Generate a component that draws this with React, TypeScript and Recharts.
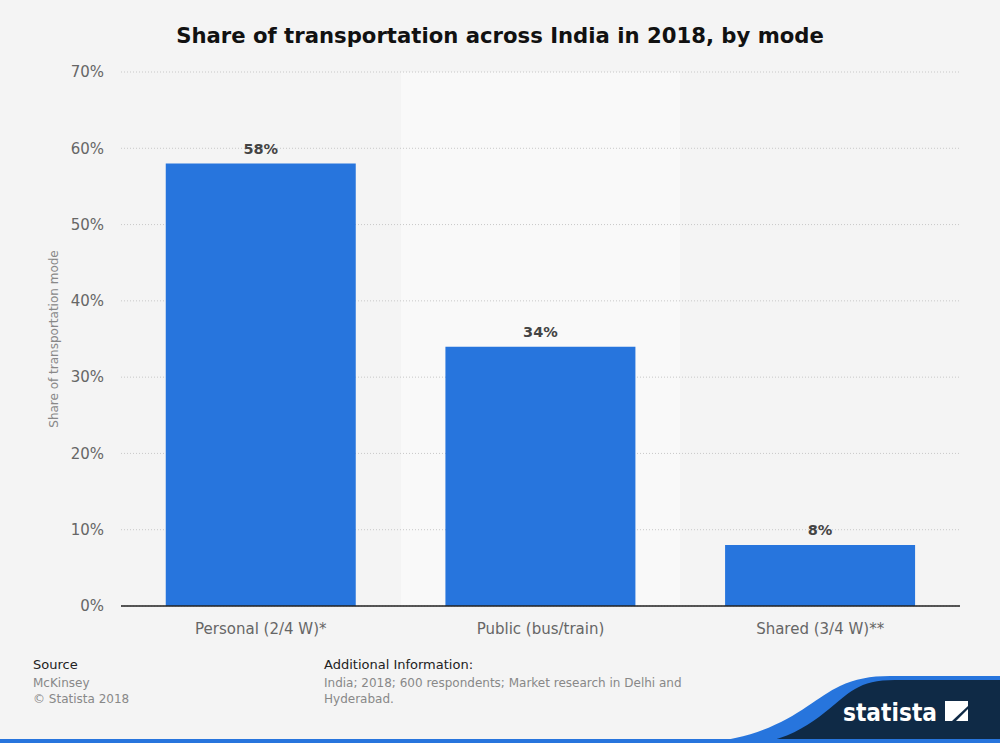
import React from 'react';
import { BarChart, Bar, XAxis, YAxis, CartesianGrid, LabelList, ReferenceLine, Label } from 'recharts';

const categories = ['Personal (2/4 W)*', 'Public (bus/train)', 'Shared (3/4 W)**'];
const shares = [58, 34, 8];
const yTicks = [0, 10, 20, 30, 40, 50, 60, 70];

const data = categories.map((c, i) => ({ name: c, value: shares[i] }));

const FONT = '"DejaVu Sans", Verdana, sans-serif';

const bandEdges = ({ offset }: any) => {
  const n = categories.length;
  return Array.from({ length: n + 1 }, (_, i) => offset.left + (offset.width * i) / n);
};

export default function App() {
  return (
    <div style={{ position: 'absolute', left: 0, top: 0, width: 1000, height: 743, background: '#f4f4f4', fontFamily: FONT, overflow: 'hidden' }}>
      <div style={{ position: 'absolute', left: 0, top: 23, width: 1000, textAlign: 'center', fontSize: 21.2, fontWeight: 'bold', color: '#111' }}>
        Share of transportation across India in 2018, by mode
      </div>
      <div style={{ position: 'absolute', left: 0, top: 0 }}>
        <BarChart width={1000} height={743} data={data} margin={{ top: 72, right: 40, bottom: 107, left: 0 }} barCategoryGap="16%">
          <CartesianGrid horizontal={false} vertical={true} stroke="none" verticalFill={['#f4f4f4', '#f9f9f9', '#f4f4f4']}
            verticalCoordinatesGenerator={bandEdges} />
          <CartesianGrid vertical={false} stroke="#c8c8c8" strokeDasharray="1 2" />
          <XAxis dataKey="name" axisLine={false} tickLine={false} tickMargin={11}
            tick={{ fill: '#666', fontSize: 15, fontFamily: FONT }} interval={0} />
          <YAxis width={121} domain={[0, 70]} ticks={yTicks} tickFormatter={(v: number) => `${v}%`} axisLine={false} tickLine={false}
            tickSize={0} tickMargin={17} tick={{ fill: '#666', fontSize: 15, fontFamily: FONT }}>
            <Label value="Share of transportation mode" angle={-90} position="insideLeft" offset={54}
              style={{ fill: '#888', fontSize: 12, fontFamily: FONT, textAnchor: 'middle' }} />
          </YAxis>
          <Bar dataKey="value" fill="#2775dd" isAnimationActive={false}>
            <LabelList dataKey="value" position="top" offset={10} formatter={(v: number) => `${v}%`}
              style={{ fill: '#444', fontSize: 14.5, fontWeight: 'bold', fontFamily: FONT }} />
          </Bar>
          <ReferenceLine y={0} stroke="#222" strokeWidth={1.5} />
        </BarChart>
      </div>
      <div style={{ position: 'absolute', left: 33, top: 657, fontSize: 13, color: '#222' }}>Source</div>
      <div style={{ position: 'absolute', left: 33, top: 675, fontSize: 12, color: '#888', lineHeight: '16px' }}>
        McKinsey<br />© Statista 2018
      </div>
      <div style={{ position: 'absolute', left: 324, top: 657, fontSize: 13, color: '#222' }}>Additional Information:</div>
      <div style={{ position: 'absolute', left: 324, top: 675, fontSize: 12, color: '#888', lineHeight: '16px', width: 380 }}>
        India; 2018; 600 respondents; Market research in Delhi and<br />Hyderabad.
      </div>
      <svg style={{ position: 'absolute', left: 0, top: 0 }} width={1000} height={743}>
        <path d="M 700 743 C 780 738, 810 700, 840 686 C 855 679, 870 676, 890 676 L 1000 676 L 1000 743 Z" fill="#2775dd" />
        <path d="M 760 743 C 810 735, 835 700, 855 689 C 865 683, 877 680, 895 680 L 1000 680 L 1000 743 Z" fill="#0f2a46" />
        <rect x={0} y={739} width={1000} height={4} fill="#2775dd" />
        <text x={843} y={721} fill="#fff" fontSize={25} fontWeight="bold" fontFamily={FONT} textLength={94} lengthAdjust="spacingAndGlyphs">statista</text>
        <path d="M 945 701 L 968 701 L 968 706 L 952 721 L 945 721 Z" fill="#fff" />
        <path d="M 968 709 L 968 721 L 956 721 Z" fill="#fff" />
      </svg>
    </div>
  );
}
